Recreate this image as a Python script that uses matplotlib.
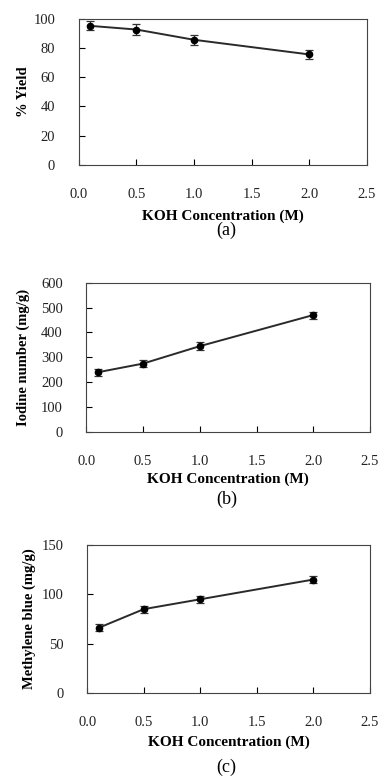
import numpy as np
import matplotlib
matplotlib.use('Agg')
import matplotlib.pyplot as plt

plt.rcParams['font.family'] = ['Liberation Serif', 'DejaVu Serif']

koh = [0.1, 0.5, 1.0, 2.0]

yield_pct = [95, 92.5, 85.5, 75.5]
yield_err = [3, 3.5, 3.5, 3]

iodine = [240, 275, 345, 470]
iodine_err = [15, 13, 17, 14]

mb = [66, 85, 95, 115]
mb_err = [3.5, 3.5, 3.5, 3.5]

xticks = [0.0, 0.5, 1.0, 1.5, 2.0, 2.5]

fig = plt.figure(figsize=(3.81, 7.79), dpi=100)

# rect, data, err, ylabel, ylim, step, tag, tag y(px), ylabel x, xlabel pad
panels = [
    ([0.2066, 0.7882, 0.756, 0.188], yield_pct, yield_err, '% Yield', [0, 100], 20, '(a)', 230, -0.17, 6),
    ([0.2265, 0.4454, 0.7446, 0.1917], iodine, iodine_err, 'Iodine number (mg/g)', [0, 600], 100, '(b)', 499, -0.2, 3.2),
    ([0.2291, 0.1104, 0.742, 0.190], mb, mb_err, 'Methylene blue (mg/g)', [0, 150], 50, '(c)', 767, -0.18, 4.6),
]

for rect, vals, errs, ylab, ylim, ystep, tag, tag_y, ylab_x, xpad in panels:
    ax = fig.add_axes(rect)
    ax.errorbar(koh, vals, yerr=errs, color='#2a2a2a', lw=1.4, marker='o', ms=4.5,
                mfc='black', mec='black', ecolor='#333333', elinewidth=0.9, capsize=2.8, capthick=0.9)
    ax.set_xlim(0, 2.5)
    ax.set_ylim(*ylim)
    ax.set_xticks(xticks)
    ax.set_xticklabels(['%.1f' % t for t in xticks])
    ax.set_yticks(np.arange(ylim[0], ylim[1] + 1, ystep))
    ax.tick_params(axis='x', direction='in', length=4, pad=16.5, labelsize=10.5, width=0.8, labelcolor='#222222')
    ax.tick_params(axis='y', direction='in', length=4, pad=17, labelsize=10.5, width=0.8, labelcolor='#222222')
    for s in ax.spines.values():
        s.set_linewidth(0.8)
        s.set_color('#444444')
    ax.set_xlabel('KOH Concentration (M)', fontsize=11, fontweight='bold', labelpad=xpad)
    ax.set_ylabel(ylab, fontsize=10.5, fontweight='bold')
    ax.yaxis.set_label_coords(ylab_x, 0.5)
    fig.text(0.594, 1 - tag_y / 779, tag, ha='center', va='center', fontsize=13)

fig.savefig('out.png', dpi=100)
